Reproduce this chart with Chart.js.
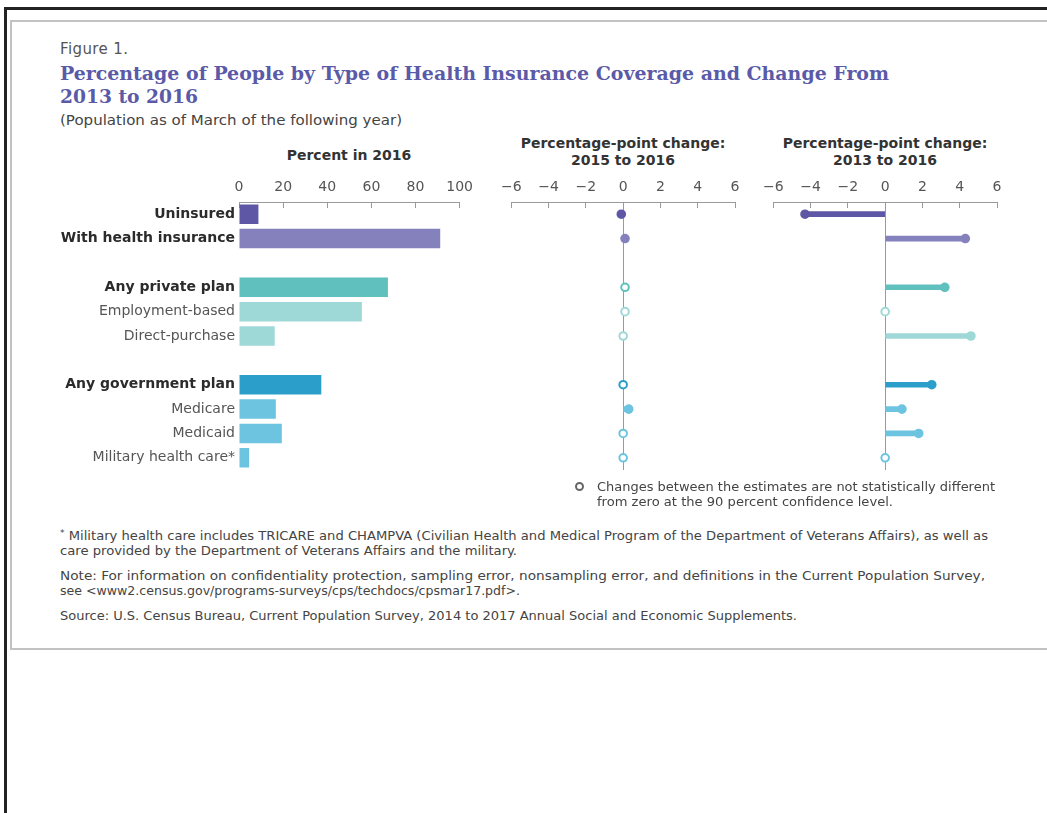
<!DOCTYPE html>
<html>
<head>
<meta charset="utf-8">
<script src="https://cdn.jsdelivr.net/npm/chart.js@4.4.1/dist/chart.umd.min.js"></script>
<style>
  html, body { margin: 0; padding: 0; background: #fff; width: 1047px; height: 813px; overflow: hidden; position: relative; }
  .abs { position: absolute; white-space: nowrap; }
  .fit { transform-origin: 0 50%; display: inline-block; }
  #frameTop { left: 4px; top: 7px; width: 1050px; height: 3px; background: #222; }
  #frameLeft { left: 4px; top: 7px; width: 3px; height: 810px; background: #222; }
  #box { left: 10px; top: 20px; width: 1060px; height: 626px; border: 2px solid #c2c2c2; border-right: none; }
  .sans { font-family: "DejaVu Sans", sans-serif; }
  .cond { font-family: "Liberation Sans Narrow", "DejaVu Sans Condensed", "Liberation Sans", sans-serif; font-size: 13px; line-height: 16px; color: #444; }
  .head { font-family: "DejaVu Sans", sans-serif; font-weight: bold; font-size: 14px; line-height: 17px; color: #333; text-align: center; }
  .star { font-size: 9px; position: relative; top: -4px; }
  canvas { position: absolute; }
</style>
</head>
<body>
<div id="frameTop" class="abs"></div>
<div id="frameLeft" class="abs"></div>
<div id="box" class="abs"></div>

<div class="abs sans" style="left:60px; top:40px; font-size:15px; line-height:18px; color:#555; letter-spacing:0.4px;">Figure 1.</div>
<div class="abs" style="left:60px; top:61.5px; font-family:'DejaVu Serif', serif; font-weight:bold; font-size:18px; line-height:23px; color:#5a5aa8;">
  <span class="fit" data-w="829">Percentage of People by Type of Health Insurance Coverage and Change From</span><br>
  <span class="fit" data-w="138">2013 to 2016</span>
</div>
<div class="abs sans" style="left:60px; top:111.5px; font-size:14px; line-height:17px; color:#444;"><span class="fit" data-w="342">(Population as of March of the following year)</span></div>

<div class="abs head" style="left:249px; width:200px; top:146.5px;">Percent in 2016</div>
<div class="abs head" style="left:503px; width:240px; top:134.5px;">Percentage-point change:<br>2015 to 2016</div>
<div class="abs head" style="left:765px; width:240px; top:134.5px;">Percentage-point change:<br>2013 to 2016</div>

<canvas id="cLeft" width="445" height="312" style="left:40px; top:172px;"></canvas>
<canvas id="cMid" width="266" height="312" style="left:489px; top:172px;"></canvas>
<canvas id="cRight" width="266" height="312" style="left:751px; top:172px;"></canvas>

<div class="abs" style="left:575px; top:482px; width:5px; height:5px; border:2px solid #666; border-radius:50%;"></div>
<div class="abs sans" style="left:597px; top:478.5px; font-size:12.5px; line-height:15px; color:#444;">
  <span class="fit" data-w="398">Changes between the estimates are not statistically different</span><br>
  <span class="fit" data-w="296">from zero at the 90 percent confidence level.</span>
</div>

<div class="abs cond" style="left:60px; top:528px;"><span class="fit" data-w="928"><span class="star">*</span> Military health care includes TRICARE and CHAMPVA (Civilian Health and Medical Program of the Department of Veterans Affairs), as well as</span></div>
<div class="abs cond" style="left:60px; top:543px;"><span class="fit" data-w="457">care provided by the Department of Veterans Affairs and the military.</span></div>
<div class="abs cond" style="left:60px; top:568px;"><span class="fit" data-w="925">Note: For information on confidentiality protection, sampling error, nonsampling error, and definitions in the Current Population Survey,</span></div>
<div class="abs cond" style="left:60px; top:583px;"><span class="fit" data-w="460">see &lt;www2.census.gov/programs-surveys/cps/techdocs/cpsmar17.pdf&gt;.</span></div>
<div class="abs cond" style="left:60px; top:608px;"><span class="fit" data-w="737">Source: U.S. Census Bureau, Current Population Survey, 2014 to 2017 Annual Social and Economic Supplements.</span></div>

<script>
// ---------- DATA ----------
const categories = ['Uninsured', 'With health insurance', '', 'Any private plan', 'Employment-based', 'Direct-purchase', '', 'Any government plan', 'Medicare', 'Medicaid', 'Military health care*'];
const boldRows = [true, true, false, true, false, false, false, true, false, false, false];
const percent2016 = [8.8, 91.2, null, 67.5, 55.7, 16.2, null, 37.3, 16.7, 19.4, 4.6];
const change2015to2016 = [-0.1, 0.1, null, 0.1, 0.1, 0.0, null, 0.0, 0.3, 0.0, 0.0];
const significant2015to2016 = [true, true, null, false, false, false, null, false, true, false, false];
const change2013to2016 = [-4.3, 4.3, null, 3.2, 0.0, 4.6, null, 2.5, 0.9, 1.8, 0.0];
const significant2013to2016 = [true, true, null, true, false, true, null, true, true, true, false];
const percentTicks = [0, 20, 40, 60, 80, 100];
const changeTicks = [-6, -4, -2, 0, 2, 4, 6];

// ---------- STYLE ----------
const rowColors = ['#5e57a5', '#8581bd', null, '#5fc0bd', '#9fd9d7', '#9fd9d7', null, '#2b9fc9', '#6cc4e0', '#6cc4e0', '#6cc4e0'];
const axisColor = '#9a9a9a';
const tickFont = { family: 'DejaVu Sans', size: 14 };

Chart.defaults.animation = false;
Chart.defaults.responsive = false;
Chart.defaults.devicePixelRatio = 1;
Chart.defaults.plugins.legend.display = false;
Chart.defaults.plugins.tooltip.enabled = false;

function topAxis(min, max, step, ticksList, zeroLine) {
  return {
    position: 'top', type: 'linear', min: min, max: max,
    afterFit: s => { s.height = 30; },
    afterBuildTicks: s => { s.ticks = ticksList.map(v => ({ value: v })); },
    ticks: {
      stepSize: step, padding: 12, color: '#555', font: tickFont, maxRotation: 0,
      callback: v => v < 0 ? '\u2212' + Math.abs(v) : String(v)
    },
    grid: {
      display: true, drawOnChartArea: zeroLine, drawTicks: true, tickLength: -6,
      tickColor: axisColor, tickWidth: 1, lineWidth: 1,
      color: ctx => (zeroLine && ctx.tick && ctx.tick.value === 0) ? axisColor : 'rgba(0,0,0,0)'
    },
    border: { display: true, color: axisColor, width: 1 }
  };
}

// Left: percent in 2016
new Chart(document.getElementById('cLeft'), {
  type: 'bar',
  data: {
    labels: categories,
    datasets: [{
      data: percent2016,
      backgroundColor: rowColors,
      categoryPercentage: 1.0, barPercentage: 0.8
    }]
  },
  options: {
    indexAxis: 'y',
    layout: { padding: { left: 0, right: 20, top: 0, bottom: 14 } },
    scales: {
      x: topAxis(0, 100, 20, percentTicks, false),
      y: {
        type: 'category', offset: true,
        afterFit: s => { s.width = 199; },
        grid: { display: false, drawTicks: false },
        border: { display: false },
        ticks: {
          padding: 4, autoSkip: false,
          color: ctx => boldRows[ctx.index] ? '#2b2b2b' : '#555',
          font: ctx => ({ family: 'DejaVu Sans', size: 14, weight: boldRows[ctx.index] ? 'bold' : 'normal' })
        }
      }
    }
  }
});

function changeChart(id, values, sig) {
  const lineData = values.map((v, i) => (sig[i] && v !== null && v !== 0) ? [0, v] : null);
  const fills = values.map((v, i) => sig[i] ? rowColors[i] : '#ffffff');
  return new Chart(document.getElementById(id), {
    type: 'bar',
    data: {
      labels: categories,
      datasets: [
        {
          type: 'line', indexAxis: 'y', data: values, showLine: false, order: 0,
          pointRadius: 3.8, pointBorderWidth: 2, pointHoverRadius: 3.8,
          pointBackgroundColor: fills, pointBorderColor: rowColors
        },
        {
          type: 'bar', data: lineData, backgroundColor: rowColors, barThickness: 5, order: 1
        }
      ]
    },
    options: {
      indexAxis: 'y',
      layout: { padding: { left: 20, right: 20, top: 0, bottom: 14 } },
      scales: {
        x: topAxis(-6, 6, 2, changeTicks, true),
        y: { type: 'category', offset: true, display: false }
      }
    }
  });
}
changeChart('cMid', change2015to2016, significant2015to2016);
changeChart('cRight', change2013to2016, significant2013to2016);

// fit text spans to measured widths of the reference
document.querySelectorAll('.fit').forEach(el => {
  const target = parseFloat(el.dataset.w);
  const w = el.getBoundingClientRect().width;
  if (w > 0) el.style.transform = 'scaleX(' + (target / w).toFixed(4) + ')';
});
</script>
</body>
</html>
